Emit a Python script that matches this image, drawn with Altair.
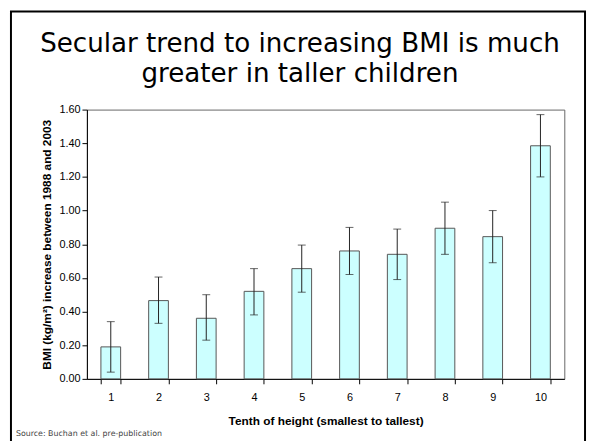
import altair as alt
import pandas as pd

# ---- data ----
deciles = ["1", "2", "3", "4", "5", "6", "7", "8", "9", "10"]
bmi_increase = [0.19, 0.465, 0.36, 0.52, 0.655, 0.76, 0.74, 0.895, 0.845, 1.385]
ci_low = [0.04, 0.33, 0.23, 0.38, 0.515, 0.62, 0.59, 0.74, 0.69, 1.20]
ci_high = [0.34, 0.605, 0.50, 0.655, 0.795, 0.90, 0.89, 1.05, 1.00, 1.57]
y_ticks = [0.0, 0.2, 0.4, 0.6, 0.8, 1.0, 1.2, 1.4, 1.6]

title_line1 = "Secular trend to increasing BMI is much"
title_line2 = "greater in taller children"
x_title = "Tenth of height (smallest to tallest)"
y_title = "BMI (kg/m\u00b2) increase between 1988 and 2003"
source_text = "Source: Buchan et al. pre-publication"

df = pd.DataFrame({"decile": deciles, "bmi": bmi_increase, "lo": ci_low, "hi": ci_high})

W, H = 484, 273
PAD = {"left": 80, "top": 100, "right": 23, "bottom": 60}

x_axis = alt.Axis(
    title=x_title,
    labelAngle=0,
    tickBand="extent",
    tickSize=5,
    labelPadding=8,
    titlePadding=13,
    labelOverlap=False,
)
y_axis = alt.Axis(
    title=y_title,
    values=y_ticks,
    format=".2f",
    tickSize=5,
    labelPadding=2,
    titlePadding=6,
    labelOverlap=False,
    grid=False,
)
x_scale = alt.Scale(paddingInner=0.587, paddingOuter=0.2935)
y_scale = alt.Scale(domain=[0, 1.6], nice=False)

x_enc = alt.X("decile:N", sort=deciles, scale=x_scale, axis=x_axis)

base = alt.Chart(df)

bars = base.mark_bar(fill="#CCFFFF", stroke="#555555", strokeWidth=1).encode(
    x=x_enc,
    y=alt.Y("bmi:Q", scale=y_scale, axis=y_axis),
)

rules = base.mark_rule(color="#222222", strokeWidth=1).encode(
    x=x_enc,
    y=alt.Y("lo:Q", scale=y_scale, axis=y_axis),
    y2="hi:Q",
)
cap_hi = base.mark_tick(color="#222222", thickness=1, size=8, orient="horizontal").encode(
    x=x_enc,
    y=alt.Y("hi:Q", scale=y_scale, axis=y_axis),
)
cap_lo = base.mark_tick(color="#222222", thickness=1, size=8, orient="horizontal").encode(
    x=x_enc,
    y=alt.Y("lo:Q", scale=y_scale, axis=y_axis),
)

one = alt.Data(values=[{"k": 1}])

t1 = alt.Chart(one).mark_text(
    text=title_line1, font="DejaVu Sans", fontSize=26.5, color="black",
    align="center", baseline="alphabetic",
).encode(x=alt.value(216), y=alt.value(-58))
t2 = alt.Chart(one).mark_text(
    text=title_line2, font="DejaVu Sans", fontSize=26.5, color="black",
    align="center", baseline="alphabetic",
).encode(x=alt.value(216), y=alt.value(-28))

src = alt.Chart(one).mark_text(
    text=source_text, font="DejaVu Sans", fontSize=8, color="#444444",
    align="left", baseline="alphabetic",
).encode(x=alt.value(-72), y=alt.value(331))

frame = alt.Chart(one).mark_rect(
    fill="white", fillOpacity=0, stroke="black", strokeWidth=2,
).encode(
    x=alt.value(-77), x2=alt.value(505), y=alt.value(-99.5), y2=alt.value(380)
)

chart = (
    alt.layer(bars, rules, cap_hi, cap_lo, t1, t2, src, frame)
    .properties(
        width=W,
        height=H,
        autosize=alt.AutoSizeParams(type="none"),
        padding=PAD,
        background="white",
    )
    .configure_view(stroke="#666666", strokeWidth=1)
    .configure_axis(
        domainColor="black",
        tickColor="black",
        labelColor="black",
        titleColor="black",
        labelFont="Liberation Sans",
        titleFont="Liberation Sans",
        titleFontWeight="bold",
        labelFontSize=11,
        titleFontSize=12,
        labelOverlap=False,
        grid=False,
    )
)

chart.save("out.html", embed_options={"renderer": "svg", "actions": False})
